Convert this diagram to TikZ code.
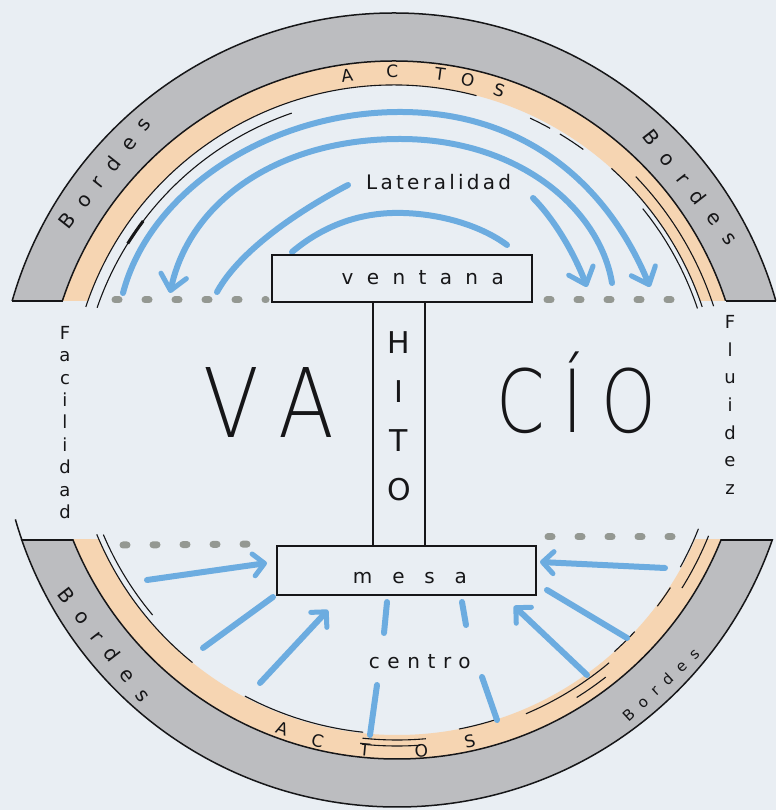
\documentclass[tikz,border=0pt]{standalone}
\usepackage{fontspec}
\setmainfont{DejaVu Sans}
\newfontfamily\thinfont{DejaVuSans-ExtraLight.ttf}[Kerning=Off]
\usetikzlibrary{arrows.meta,calc}
\definecolor{paper}{RGB}{233,238,243}
\definecolor{bandgray}{RGB}{188,189,192}
\definecolor{bandorange}{RGB}{246,213,178}
\definecolor{pen}{RGB}{22,22,24}
\definecolor{marker}{RGB}{108,172,224}
\definecolor{dotgray}{RGB}{148,152,146}
\newcommand\spaced[2]{{\addfontfeature{LetterSpace=#1}\hspace*{\dimexpr\fontdimen6\font*#1/100\relax}#2}}
\newcommand\ringarc[4]{\draw[fine line] ($(#1)+(#3:#2)$) arc[start angle=#3,end angle=#4,radius=#2];}
\begin{document}
\begin{tikzpicture}[x=1pt,y=1pt,
  pen line/.style={draw=pen,line width=1.5pt},
  fine line/.style={draw=pen,line width=1.1pt},
  marker line/.style={draw=marker,line width=6pt,line cap=round},
  marker arrow/.style={marker line,-{Straight Barb[round,length=15pt,width=26pt,line width=5pt]}},
  small marker arrow/.style={marker line,-{Straight Barb[round,length=11pt,width=22pt,line width=5pt]}},
  dotline/.style={draw=dotgray,line width=7pt,line cap=round,dash pattern=on 4pt off 26pt},
  boxst/.style={draw=pen,line width=1.8pt,fill=paper,inner sep=0pt},
  hand/.style={font=\fontsize{20}{24}\selectfont,text=pen,inner sep=0pt},
  ringtxt/.style={font=\fontsize{17}{17}\selectfont,text=pen,inner sep=0pt},
  bordes/.style={font=\fontsize{20}{20}\selectfont,text=pen,inner sep=0pt},
  stack/.style={font=\fontsize{18}{#1}\selectfont,text=pen,inner sep=0pt,align=center},
  big/.style={font=\thinfont\fontsize{#1}{#1}\selectfont,text=pen,inner sep=0pt,anchor=base}
]
\useasboundingbox (0,0) rectangle (776,810);
\fill[paper] (0,0) rectangle (776,810);
\coordinate (C) at (394,400);
\coordinate (Cb) at (397,400);

% ---------- upper ring ----------
\begin{scope}
  \clip (0,509) rectangle (776,810);
  \fill[bandgray,even odd rule] (C) circle[radius=397] (C) circle[radius=349];
  \fill[bandorange,even odd rule] (C) circle[radius=349] (C) circle[radius=325];
  \draw[pen line] (C) circle[radius=397];
  \draw[pen line] (C) circle[radius=349];
\end{scope}
\draw[pen line] (12.3,509) -- (62.5,509);
\draw[pen line] (725.5,509) -- (775.7,509);
\ringarc{C}{325}{161.5}{75.3}
\ringarc{C}{314}{161}{109}
\draw[draw=pen,line width=3pt] ($(C)+(148:314)$) arc[start angle=148,end angle=143,radius=314];
\ringarc{C}{322}{65}{61}
\ringarc{C}{322}{59}{54}
\ringarc{C}{325}{48}{18.5}
\ringarc{C}{336}{44}{18}
\ringarc{C}{320}{39}{18.5}

% ---------- lower ring ----------
\begin{scope}
  \clip (0,0) rectangle (776,270);
  \fill[bandgray,even odd rule] (Cb) circle[radius=397] (Cb) circle[radius=349];
  \fill[bandorange,even odd rule] (Cb) circle[radius=349] (Cb) circle[radius=325];
  \draw[pen line] (Cb) circle[radius=397];
  \draw[pen line] (Cb) circle[radius=349];
\end{scope}
\draw[pen line] (21.9,270) -- (73.1,270);
\draw[pen line] (720.9,270) -- (772.1,270);
\draw[pen line] ($(Cb)+(196:397)$) arc[start angle=196,end angle=199.1,radius=397];
\ringarc{Cb}{324}{-21.5}{-29}
\ringarc{Cb}{336}{-22}{-32}
\ringarc{Cb}{326}{-33}{-37}
\ringarc{Cb}{325}{-43}{-48}
\ringarc{Cb}{330}{-50}{-67}
\ringarc{Cb}{339}{-52}{-58}
\ringarc{Cb}{325}{-72}{-79}
\ringarc{Cb}{330}{-85}{-96}
\ringarc{Cb}{336}{-86}{-96}
\ringarc{Cb}{324}{-96}{-118}
\ringarc{Cb}{325}{-129}{-157.5}
\ringarc{Cb}{319}{-140}{-157}

% ---------- upper blue arrows ----------
\coordinate (a1) at (123,517); \coordinate (a2) at (650,523);
\coordinate (b1) at (612,527); \coordinate (b2) at (170,517);
\coordinate (c1) at (348,625); \coordinate (c2) at (217,518);
\coordinate (d1) at (292,558); \coordinate (d2) at (507,565);
\coordinate (e1) at (533,612); \coordinate (e2) at (587,523);
\draw[marker arrow] (a1) .. controls (150,620) and (270,698) .. (400,698)
                         .. controls (530,698) and (610,620) .. (a2);
\draw[marker arrow] (b1) .. controls (600,600) and (520,671) .. (400,671)
                         .. controls (280,671) and (190,610) .. (b2);
\draw[marker line] (c1) .. controls (300,600) and (240,560) .. (c2);
\draw[marker line] (d1) .. controls (330,590) and (370,598) .. (403,597)
                        .. controls (440,596) and (480,585) .. (d2);
\draw[marker arrow] (e1) .. controls (555,590) and (575,555) .. (e2);

% ---------- dotted edges ----------
\coordinate (t1) at (115,510); \coordinate (t2) at (266,510);
\coordinate (t3) at (547,510); \coordinate (t4) at (690,510);
\coordinate (u1) at (123,265); \coordinate (u2) at (262,266);
\coordinate (u3) at (548,273); \coordinate (u4) at (690,273);
\draw[dotline] (t1) -- (t2);
\draw[dotline] (t3) -- (t4);
\draw[dotline] (u1) -- (u2);
\draw[dotline] (u3) -- (u4);

% ---------- lower blue arrows ----------
\coordinate (f1) at (147,230); \coordinate (f2) at (267,247);
\coordinate (g1) at (203,162); \coordinate (g2) at (273,213);
\coordinate (h1) at (260,127); \coordinate (h2) at (328,200);
\coordinate (i1) at (370,75);  \coordinate (i2) at (377,125);
\coordinate (i3) at (384,177); \coordinate (i4) at (387,208);
\coordinate (j1) at (466,185); \coordinate (j2) at (462,208);
\coordinate (j3) at (497,90);  \coordinate (j4) at (482,133);
\coordinate (k1) at (587,135); \coordinate (k2) at (514,204);
\coordinate (l1) at (627,172); \coordinate (l2) at (547,220);
\coordinate (m1) at (665,242); \coordinate (m2) at (540,248);
\draw[small marker arrow] (f1) -- (f2);
\draw[marker line] (g1) -- (g2);
\draw[small marker arrow] (h1) -- (h2);
\draw[marker line] (i1) -- (i2);
\draw[marker line] (i3) -- (i4);
\draw[marker line] (j1) -- (j2);
\draw[marker line] (j3) -- (j4);
\draw[small marker arrow] (k1) -- (k2);
\draw[marker line] (l1) -- (l2);
\draw[small marker arrow] (m1) -- (m2);

% ---------- the I-shaped landmark ----------
\node[boxst,minimum width=52pt,minimum height=245pt] (hito) at (399,385.5) {};
\node[boxst,minimum width=260pt,minimum height=47pt] (ventana) at (402,531.5) {};
\node[boxst,minimum width=259pt,minimum height=49pt] (mesa) at (406.5,239.5) {};

% ---------- texts ----------
\node[hand] (ventanatxt) at (416,532) {\spaced{67}{ventana}};
\node[hand] (mesatxt) at (400,232) {\spaced{99}{mesa}};
\node[hand] (centrotxt) at (416,148) {\spaced{38}{centro}};
\node[hand] (lateral) at (437,628) {\spaced{16}{Lateralidad}};
\node[font=\fontsize{30}{49}\selectfont,text=pen,inner sep=0pt,align=center] (hitotxt) at (399,393.5) {H\\I\\T\\O};
\node[stack=22.4] (facilidad) at (65,387.5) {F\\a\\c\\i\\l\\i\\d\\a\\d};
\node[stack=27.7] (fluidez) at (730,405) {F\\l\\u\\i\\d\\e\\z};
\node[big=96,xscale=0.85] (va) at (259,372) {\spaced{24}{VA}};
\node[big=87,xscale=0.8] (cio) at (567,377) {\spaced{26}{CÍO}};

\node[bordes,rotate=51.7] (bordesTL) at ($(C)+(141.7:374)$) {\spaced{66}{Bordes}};
\node[bordes,rotate=-52] (bordesTR) at ($(C)+(38:371)$) {\spaced{70}{Bordes}};
\node[bordes,rotate=-52.3] (bordesBL) at ($(Cb)+(-142.3:375)$) {\spaced{68}{Bordes}};
\node[bordes,font=\fontsize{15}{15}\selectfont,rotate=43] (bordesBR) at ($(Cb)+(-46.9:381)$) {\spaced{62}{Bordes}};

\foreach \ch/\a/\r [count=\i] in {A/98/338,C/90.3/339,T/82.2/339,O/77.4/338,S/71.8/337}
  \node[ringtxt,rotate=\a-90] (actosup\i) at ($(C)+(\a:\r)$) {\ch};
\foreach \ch/\a/\r [count=\i] in {A/-109.8/339,C/-103.5/340,T/-95.4/341,O/-85.9/342,S/-77.6/339}
  \node[ringtxt,rotate=\a+90] (actosdown\i) at ($(Cb)+(\a:\r)$) {\ch};
\end{tikzpicture}
\end{document}
